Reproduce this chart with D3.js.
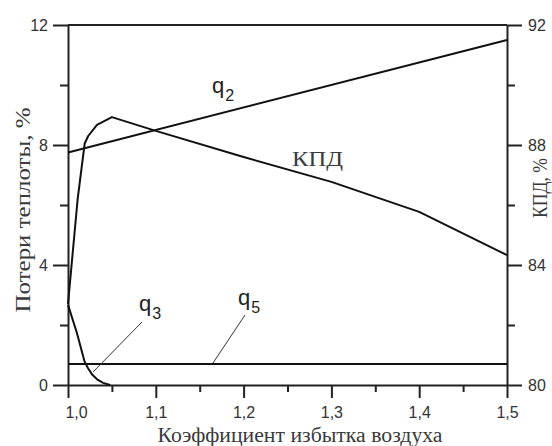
<!DOCTYPE html>
<html>
<head>
<meta charset="utf-8">
<script src="https://cdn.jsdelivr.net/npm/d3@7"></script>
<style>
  body { margin: 0; background: #fff; }
  .tick text { font-family: "Liberation Sans", Arial, sans-serif; font-size: 16px; fill: #333; }
  .axisTitle { font-family: "Liberation Serif", "Times New Roman", serif; font-size: 21px; fill: #3a3a3a; }
  .curveLabel { font-family: "Liberation Sans", Arial, sans-serif; fill: #222; }
</style>
</head>
<body>
<div id="chart"></div>
<script>
// data
var q2Alpha = [1.0, 1.5];
var q2Loss = [7.75, 11.5];

var kpdAlpha = [1.0, 1.011, 1.019, 1.023, 1.033, 1.05, 1.1, 1.2, 1.3, 1.4, 1.5];
var kpdValue = [82.7, 86.2, 88.05, 88.3, 88.67, 88.93, 88.47, 87.6, 86.77, 85.77, 84.33];

var q3Alpha = [1.0, 1.01, 1.019, 1.023, 1.028, 1.034, 1.04, 1.048];
var q3Loss = [2.67, 1.75, 0.77, 0.55, 0.33, 0.17, 0.07, 0];

var q5Alpha = [1.0, 1.5];
var q5Loss = [0.7, 0.7];

var xMajor = [1.0, 1.1, 1.2, 1.3, 1.4, 1.5];
var xMinor = [1.05, 1.15, 1.25, 1.35, 1.45];
var leftMajor = [0, 4, 8, 12];
var leftMinor = [2, 6, 10];
var rightMajor = [80, 84, 88, 92];
var rightMinor = [82, 86, 90];

// svg params
var svgWidth = 552;
var svgHeight = 446;

var svg = d3.select("#chart").append("svg")
  .attr("width", svgWidth)
  .attr("height", svgHeight);

var xScale = d3.scaleLinear().domain([1.0, 1.5]).range([68, 507]);
var yLeft = d3.scaleLinear().domain([0, 12]).range([385, 25]);
var yRight = d3.scaleLinear().domain([80, 92]).range([385, 25]);

var comma = d => d.toFixed(1).replace(".", ",");

// axes
function styleAxis(g) {
  g.selectAll("path, line").attr("stroke", "#222").attr("stroke-width", 2);
}

svg.append("g")
  .attr("transform", "translate(0,385)")
  .call(d3.axisBottom(xScale).tickValues(xMajor).tickSize(13).tickSizeOuter(0).tickPadding(9).tickFormat(comma))
  .call(styleAxis)
  .call(g => g.selectAll(".tick text").filter(d => d === 1.0).attr("dx", 8));

svg.append("g")
  .attr("transform", "translate(0,385)")
  .call(d3.axisBottom(xScale).tickValues(xMinor).tickSize(7).tickFormat(""))
  .call(styleAxis)
  .call(g => g.select(".domain").remove());

svg.append("g")
  .attr("transform", "translate(68,0)")
  .call(d3.axisLeft(yLeft).tickValues(leftMajor).tickSize(15).tickSizeOuter(0).tickPadding(5))
  .call(styleAxis);

svg.append("g")
  .attr("transform", "translate(68,0)")
  .call(d3.axisLeft(yLeft).tickValues(leftMinor).tickSize(8).tickFormat(""))
  .call(styleAxis)
  .call(g => g.select(".domain").remove());

svg.append("g")
  .attr("transform", "translate(507,0)")
  .call(d3.axisRight(yRight).tickValues(rightMajor).tickSize(15).tickSizeOuter(0).tickPadding(6))
  .call(styleAxis);

svg.append("g")
  .attr("transform", "translate(507,0)")
  .call(d3.axisRight(yRight).tickValues(rightMinor).tickSize(8).tickFormat(""))
  .call(styleAxis)
  .call(g => g.select(".domain").remove());

// top frame line
svg.append("line")
  .attr("x1", xScale(1.0)).attr("x2", xScale(1.5))
  .attr("y1", yLeft(12)).attr("y2", yLeft(12))
  .attr("stroke", "#222").attr("stroke-width", 2);

// curves
function drawCurve(xs, ys, yScale) {
  var pts = xs.map((a, i) => [a, ys[i]]);
  var line = d3.line().x(d => xScale(d[0])).y(d => yScale(d[1]));
  svg.append("path")
    .datum(pts)
    .attr("d", line)
    .attr("fill", "none")
    .attr("stroke", "#111")
    .attr("stroke-width", 2)
    .attr("stroke-linejoin", "round");
}

drawCurve(q2Alpha, q2Loss, yLeft);
drawCurve(kpdAlpha, kpdValue, yRight);
drawCurve(q3Alpha, q3Loss, yLeft);
drawCurve(q5Alpha, q5Loss, yLeft);

// curve labels
function qLabel(x, y, sub) {
  var t = svg.append("text").attr("class", "curveLabel")
    .attr("x", x).attr("y", y)
    .style("font-size", "22px");
  t.append("tspan").text("q");
  t.append("tspan").attr("dy", 8).attr("dx", 1).style("font-size", "16px").text(sub);
}

qLabel(212, 93, "2");
qLabel(139, 311, "3");
qLabel(238, 305, "5");

svg.append("text")
  .attr("class", "axisTitle")
  .attr("x", 292).attr("y", 166)
  .style("font-size", "21px")
  .attr("textLength", 51)
  .attr("lengthAdjust", "spacingAndGlyphs")
  .text("КПД");

// leader lines
svg.append("line")
  .attr("x1", 142).attr("y1", 322).attr("x2", 93).attr("y2", 372)
  .attr("stroke", "#333").attr("stroke-width", 1);
svg.append("line")
  .attr("x1", 245).attr("y1", 315).attr("x2", 213).attr("y2", 363)
  .attr("stroke", "#333").attr("stroke-width", 1);

// axis titles
svg.append("text")
  .attr("class", "axisTitle")
  .attr("transform", "translate(30,210) rotate(-90)")
  .attr("text-anchor", "middle")
  .attr("textLength", 205)
  .attr("lengthAdjust", "spacingAndGlyphs")
  .text("Потери теплоты, %");

svg.append("text")
  .attr("class", "axisTitle")
  .attr("transform", "translate(547,188) rotate(-90)")
  .attr("text-anchor", "middle")
  .attr("textLength", 60)
  .attr("lengthAdjust", "spacingAndGlyphs")
  .text("КПД, %");

svg.append("text")
  .attr("class", "axisTitle")
  .attr("x", 300).attr("y", 442)
  .attr("text-anchor", "middle")
  .style("font-size", "20px")
  .attr("textLength", 285)
  .attr("lengthAdjust", "spacingAndGlyphs")
  .text("Коэффициент избытка воздуха");
</script>
</body>
</html>
